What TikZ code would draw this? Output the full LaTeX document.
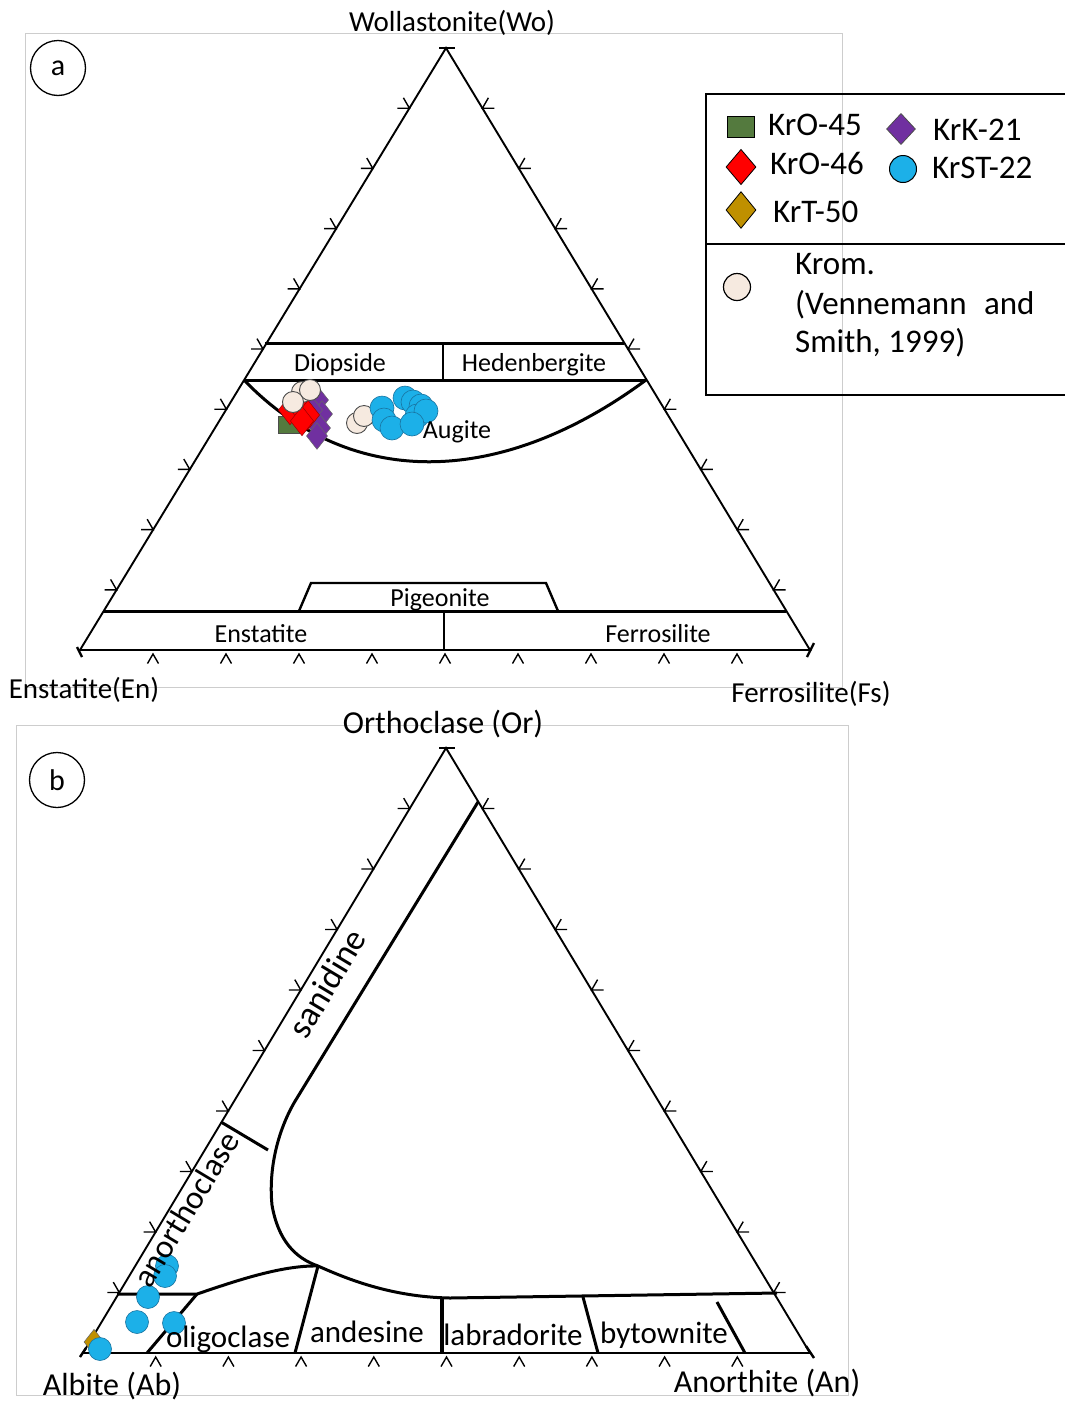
\documentclass[tikz,border=0pt]{standalone}
\usepackage{fontspec}
\setmainfont{Carlito}
\usetikzlibrary{calc}
\definecolor{frm}{RGB}{205,205,205}
\definecolor{grn}{RGB}{84,122,62}
\definecolor{prp}{RGB}{112,48,160}
\definecolor{gld}{RGB}{191,144,0}
\definecolor{cyn}{RGB}{28,176,232}
\definecolor{cyd}{RGB}{25,115,160}
\definecolor{bge}{RGB}{246,234,224}
\begin{document}
\begin{tikzpicture}[x=1pt,y=-1pt,
 side/.style={line width=1.9pt,line join=miter},
 bnd/.style={line width=3pt},
 dvd/.style={line width=1.4pt},
 tk/.style={line width=1.4pt},
 lab/.style={font=\fontsize{26}{30}\selectfont,anchor=base,inner sep=0pt},
 labb/.style={font=\fontsize{31}{36}\selectfont,anchor=base,inner sep=0pt},
 axa/.style={font=\fontsize{29}{34}\selectfont,anchor=base,inner sep=0pt},
 axb/.style={font=\fontsize{32}{38}\selectfont,anchor=base,inner sep=0pt},
 leg/.style={font=\fontsize{33}{40}\selectfont,anchor=base west,inner sep=0pt},
 dia/.pic={\path[pic actions] (0,-14) -- (11,0) -- (0,14) -- (-11,0) -- cycle;},
 cy/.style={fill=cyn,draw=cyd,line width=0.6pt},
 bg/.style={fill=bge,draw=black!70,line width=0.9pt},
 circlab/.style={draw,circle,line width=1.3pt,minimum size=55pt,inner sep=0pt,font=\fontsize{30}{34}\selectfont},
]
\useasboundingbox (0,0) rectangle (1065,1403);
\fill[white] (0,0) rectangle (1065,1403);

% ---------- frames ----------
\draw[frm,line width=1pt] (25,33) rectangle (842,687);
\draw[frm,line width=1pt] (16,725) rectangle (848,1395);
\node[circlab] (ca) at (58,68) {a};
\node[circlab] (cb) at (57,780) {b};

% ================= (a) pyroxene triangle =================
\coordinate (tA) at (446,48);
\coordinate (tL) at (80,650);
\coordinate (tR) at (810,650);
\draw[side] (tL) -- (tA) -- (tR) -- cycle;
\foreach \k in {1,...,9}{
  \coordinate (p) at ($(tL)!{\k/10}!(tA)$);
  \draw[tk] ($(p)+(-120:12)$) -- (p) -- ($(p)+(180:12)$);
  \coordinate (q) at ($(tR)!{\k/10}!(tA)$);
  \draw[tk] ($(q)+(-60:12)$) -- (q) -- ($(q)+(0:12)$);
  \coordinate (r) at ($(tL)!{\k/10}!(tR)+(0,4)$);
  \draw[tk] ($(r)+(120:11)$) -- (r) -- ($(r)+(60:11)$);
}
% vertex marks
\draw[line width=2.4pt] (439,48) -- (455,48);
\draw[line width=2.4pt] (77,647) -- (82,657);
\draw[line width=2.4pt] (807,657) -- (814,643);

% fields
\draw[bnd] (265,343) -- (624,343);
\draw[bnd] (244,380) -- (646,380);
\draw[dvd] (443,343) -- (443,380);
\draw[bnd] (244,380) .. controls (350,490) and (500,488) .. (646,380);
\draw[bnd] (104,611) -- (786,611);
\draw[line width=2.4pt] (299,611) -- (311,583) -- (546,583) -- (558,611);
\draw[dvd] (444,611) -- (444,650);

% data points (a)
\foreach \x/\y in {318/400,322/414,320/428,317/436,312/410}{
  \pic[fill=prp,draw=black!60,line width=0.5pt,scale=0.95] at (\x,\y) {dia};
}
\draw[fill=grn,draw=black!70,line width=0.6pt] (278,416) rectangle (299,433);
\foreach \x/\y in {290/410,299/406,308/415,302/421}{
  \pic[fill=red,draw=red!60!black,line width=0.5pt,scale=1.05] at (\x,\y) {dia};
}
\foreach \x/\y in {302/392,310/390,293/402}{
  \draw[bg] (\x,\y) circle[radius=10.5];
}
\foreach \x/\y in {357/423,364/416}{
  \draw[bg] (\x,\y) circle[radius=10.5];
}
\foreach \x/\y in {382/408,384/420,392/428,405/398,413/402,421/406,417/416,426/411,412/424}{
  \draw[cy] (\x,\y) circle[radius=12];
}

% labels (a)
\node[lab] (ldi) at (340,371) {Diopside};
\node[lab] (lhe) at (534,371) {Hedenbergite};
\node[lab] (lau) at (457,438) {Augite};
\node[lab] (lpi) at (440,606) {Pigeonite};
\node[lab] (len) at (261,642) {Enstatite};
\node[lab] (lfe) at (658,642) {Ferrosilite};
\node[axa] (lwo) at (452,31) {Wollastonite(Wo)};
\node[axa] (lEn) at (84,698) {Enstatite(En)};
\node[axa] (lFs) at (811,702) {Ferrosilite(Fs)};

% legend
\draw[line width=2pt] (1066,94) -- (706,94) -- (706,395) -- (1066,395);
\draw[line width=1.3pt] (706,244) -- (1066,244);
\draw[fill=grn,draw=black,line width=1pt] (727,116) rectangle (754,137);
\node[leg] (k45) at (768,135) {KrO-45};
\pic[fill=prp,draw=black!70,line width=0.8pt,xscale=1.3,yscale=1.1] at (901,129) {dia};
\node[leg] (k21) at (933,140) {KrK-21};
\pic[fill=red,draw=black,line width=0.8pt,xscale=1.35,yscale=1.25] at (741,167) {dia};
\node[leg] (k46) at (770,174) {KrO-46};
\draw[fill=cyn,draw=black,line width=1pt] (903,169) circle[radius=13.5];
\node[leg] (k22) at (932,178) {KrST-22};
\pic[fill=gld,draw=black,line width=0.8pt,xscale=1.35,yscale=1.3] at (741,210) {dia};
\node[leg] (k50) at (773,222) {KrT-50};
\draw[fill=bge,draw=black,line width=1.2pt] (737,287) circle[radius=13.5];
\node[leg] (kr1) at (795,274) {Krom.};
\node[leg] (kr2) at (795,314) {(Vennemann\hspace{10pt} and};
\node[leg] (kr3) at (795,352) {Smith, 1999)};

% ================= (b) feldspar triangle =================
\coordinate (bA) at (446,748);
\coordinate (bL) at (83,1353);
\coordinate (bR) at (810,1353);
\draw[side] (bL) -- (bA) -- (bR) -- cycle;
\foreach \k in {1,...,9}{
  \coordinate (p) at ($(bL)!{\k/10}!(bA)$);
  \draw[tk] ($(p)+(-120:12)$) -- (p) -- ($(p)+(180:12)$);
  \coordinate (q) at ($(bR)!{\k/10}!(bA)$);
  \draw[tk] ($(q)+(-60:12)$) -- (q) -- ($(q)+(0:12)$);
  \coordinate (r) at ($(bL)!{\k/10}!(bR)+(0,4)$);
  \draw[tk] ($(r)+(120:11)$) -- (r) -- ($(r)+(60:11)$);
}
\draw[line width=2.4pt] (439,748) -- (455,748);
\draw[line width=2.4pt] (806,1346) -- (814,1358);
\draw[line width=2.4pt] (80,1357) -- (86,1348);

% fields
\draw[bnd] (478,802) -- (297,1098) .. controls (280,1125) and (268,1165) .. (272,1205)
  .. controls (278,1240) and (295,1258) .. (318,1266)
  .. controls (345,1278) and (390,1297) .. (450,1298) -- (777,1293);
\draw[bnd] (221,1122) -- (268,1150);
\draw[bnd] (117,1294) -- (197,1294) .. controls (230,1283) and (280,1265) .. (318,1266);
\draw[bnd] (197,1294) -- (147,1353);
\draw[bnd] (318,1266) -- (295,1353);
\draw[line width=3.4pt] (442,1297) -- (442,1353);
\draw[bnd] (583,1297) -- (598,1353);
\draw[bnd] (717,1302) -- (745,1353);

% data points (b)
\pic[fill=gld,draw=black!60,line width=0.5pt,scale=0.9] at (94,1342) {dia};
\foreach \x/\y in {167/1266,165/1276,148/1297,137/1322,174/1323,100/1349}{
  \draw[cy] (\x,\y) circle[radius=11.5];
}

% labels (b)
\node[font=\fontsize{35}{40}\selectfont,inner sep=0pt,rotate=59,anchor=center] (lsa) at (327,983) {sanidine};
\node[font=\fontsize{33}{38}\selectfont,inner sep=0pt,rotate=59,anchor=center] (lan) at (186,1209) {anorthoclase};
\node[labb] (lol) at (228,1347) {oligoclase};
\node[labb] (lad) at (367,1342) {andesine};
\node[labb] (lla) at (513,1345) {labradorite};
\node[labb] (lby) at (664,1343) {bytownite};
\node[axb] (lOr) at (443,733) {Orthoclase (Or)};
\node[axb] (lAb) at (112,1395) {Albite (Ab)};
\node[axb] (lAn) at (767,1392) {Anorthite (An)};
\end{tikzpicture}
\end{document}
